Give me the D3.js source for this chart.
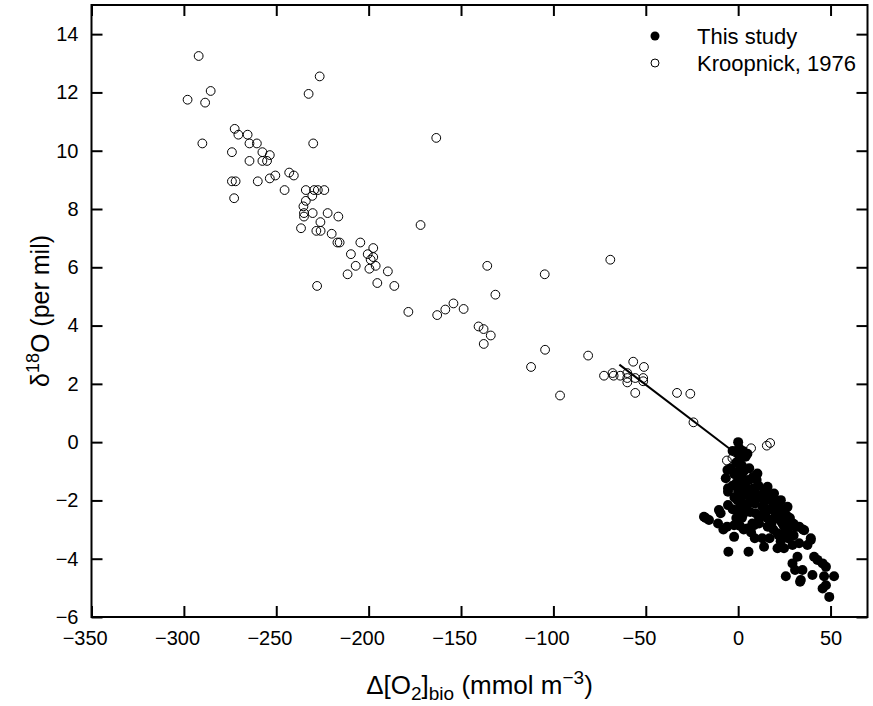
<!DOCTYPE html>
<html>
<head>
<meta charset="utf-8">
<script src="https://cdn.jsdelivr.net/npm/d3@7"></script>
<style>
  body { margin: 0; background: #fff; }
  svg text { font-family: "Liberation Sans", Arial, Helvetica, sans-serif; fill: #000; }
</style>
</head>
<body>
<div id="chart"></div>
<script>
// Kroopnick, 1976 (open circles): [dO2bio, d18O]
const kroopnick = [
  [-292, 13.25], [-298, 11.75], [-288.5, 11.65], [-285.5, 12.05], [-290, 10.25],
  [-226.5, 12.55], [-232.5, 11.95], [-230, 10.25], [-272.5, 10.75], [-270.5, 10.55],
  [-265.5, 10.55], [-264.5, 10.25], [-260.5, 10.25], [-274, 9.95], [-257.5, 9.95],
  [-253.5, 9.85], [-264.5, 9.65], [-257.5, 9.65], [-255, 9.65], [-250.5, 9.15],
  [-253.5, 9.05], [-243, 9.25], [-240.5, 9.15], [-274, 8.95], [-272, 8.95],
  [-260, 8.95], [-245.5, 8.65], [-234, 8.65], [-229.5, 8.65], [-227.5, 8.65],
  [-224, 8.65], [-230.5, 8.45], [-234, 8.28], [-272.8, 8.37], [-235.3, 8.09],
  [-235, 7.86], [-235, 7.74], [-230.3, 7.86], [-222.2, 7.86], [-216.4, 7.74],
  [-226.1, 7.55], [-236.6, 7.34], [-228.3, 7.25], [-226, 7.25], [-220, 7.15],
  [-216.9, 6.85], [-215.7, 6.85], [-204.5, 6.85], [-209.6, 6.45], [-197.5, 6.66],
  [-200.5, 6.45], [-198.9, 6.26], [-197.5, 6.35], [-199.6, 5.95], [-196.2, 6.05],
  [-207, 6.05], [-211.4, 5.76], [-189.6, 5.86], [-195.3, 5.46], [-186.1, 5.36],
  [-227.9, 5.36], [-171.9, 7.45], [-178.5, 4.47], [-162.9, 4.36], [-158.5, 4.55],
  [-154.1, 4.76], [-148.6, 4.57], [-163.4, 10.44], [-135.8, 6.05], [-131.4, 5.06],
  [-104.7, 5.76], [-140.5, 3.97], [-137.8, 3.88], [-133.9, 3.66], [-137.7, 3.37],
  [-104.5, 3.17], [-112.1, 2.58], [-96.4, 1.6], [-81.2, 2.97], [-69.2, 6.26],
  [-56.8, 2.76], [-51, 2.58], [-72.6, 2.28], [-68, 2.37], [-67.4, 2.28],
  [-63.8, 2.28], [-60, 2.37], [-60, 2.2], [-60, 2.05], [-55.7, 2.2],
  [-51.4, 2.2], [-51.4, 2.09], [-55.7, 1.69], [-33.1, 1.69], [-25.9, 1.66],
  [-24.2, 0.68], [7, -0.21], [15.5, -0.12], [17.3, -0.03], [-6.1, -0.63],
  [-3.1, -0.55], [2, -0.45], [-1.5, -0.35]
];

// This study (filled circles): [dO2bio, d18O]
const thisStudy = [
  [0, 0], [0.5, -0.2], [0, -0.4], [1, -0.6], [-1, -0.7], [2, -0.8], [0, -1.0], [3, -1.0],
  [-2, -1.1], [1.5, -1.2], [4, -1.3], [-1, -1.4], [6, -1.3], [2.5, -1.5], [5, -1.6],
  [8, -1.6], [0, -1.7], [-3, -1.5], [3.5, -1.8], [7, -1.9], [10, -1.8], [12, -1.9],
  [1.5, -2.0], [5.5, -2.1], [9, -2.1], [13, -2.2], [15, -2.0], [17, -2.3], [-3, -2.3],
  [0, -2.4], [2.5, -2.5], [6.5, -2.4], [14, -2.4], [19, -2.1], [3, -3.0], [7, -3.1],
  [16, -2.9], [13, -3.3], [17, -3.3], [9, -3.3], [2, -2.6], [-1, -2.6], [4, -0.5],
  [2.5, -0.3], [6, -0.9], [8, -1.2], [10, -1.3], [11, -1.5], [14, -1.7], [16, -1.8],
  [18, -1.9], [20, -2.3], [22, -2.5], [24, -2.8], [28, -2.7], [30, -3.2], [27, -3.3],
  [19, -3.0], [23, -3.4], [-4, -0.9], [5, -0.4], [10.4, -1.08], [15.9, -1.53],
  [19.4, -1.76], [18, -1.8], [20, -2.0], [22, -2.1], [24, -2.3], [26, -2.5], [28, -2.6],
  [30, -2.8], [33, -2.9], [35, -3.0], [20, -2.4], [23, -2.7], [25, -2.9], [27, -3.0],
  [18, -2.8], [22, -3.2], [-3, -0.3], [-2, -1.9], [1, -2.2], [-6, -2.9],
  [-5.8, -0.96], [-6.7, -1.24], [-5.5, -1.58], [-5.5, -1.7], [-5.5, -2.16], [-10.4, -2.33],
  [-9.5, -2.44], [-18.5, -2.56], [-15.8, -2.67], [-10.9, -2.79], [-8.0, -3.0], [-2.2, -2.85],
  [1.0, -2.88], [-2.2, -3.25], [-5.3, -3.76], [5.6, -3.76], [14.0, -3.59], [5.0, -2.96],
  [8.6, -2.85], [11.3, -2.79], [21.3, -3.64], [24.8, -3.64], [29.4, -3.53], [33.0, -3.47],
  [37.5, -3.53], [39.3, -3.36], [32.1, -3.93], [29.4, -4.16], [41.1, -3.93], [42.9, -4.04],
  [45.7, -4.16], [47.5, -4.28], [25.8, -4.6], [30.8, -4.39], [34.8, -4.39], [33.9, -4.73],
  [33.5, -4.79], [40.2, -4.56], [46.5, -4.6], [51.9, -4.6], [45.7, -5.02], [47.5, -4.91],
  [49.3, -5.31], [35.7, -3.02], [39.3, -3.3], [31.2, -2.91], [26.7, -2.56], [23.1, -1.99],
  [26.7, -2.22], [20.4, -2.56], [18.6, -2.67], [21.3, -3.13], [24.8, -3.13], [9.5, -2.44],
  [11.3, -2.61], [15.8, -2.61], [4.1, -2.27], [-0.4, -1.99], [7.7, -2.79], [-17.6, -2.6]
];

// regression line end points
const fitLine = [[-64.3, 2.66], [-1.6, -0.37]];

const xTicks = [-350, -300, -250, -200, -150, -100, -50, 0, 50];
const yTicks = [-6, -4, -2, 0, 2, 4, 6, 8, 10, 12, 14];
const legendLabels = ["This study", "Kroopnick, 1976"];

const W = 873, H = 706;
const plot = { left: 91.5, right: 867.5, top: 5, bottom: 617 };

const svg = d3.select("#chart").append("svg")
  .attr("width", W)
  .attr("height", H);

const x = d3.scaleLinear().domain([-350, 70]).range([plot.left, plot.right]);
const y = d3.scaleLinear().domain([-6, 15]).range([plot.bottom, plot.top]);

const fmt = d3.format("d");

function styleAxis(g) {
  g.select(".domain").remove();
  g.selectAll(".tick line").attr("stroke", "#000").attr("stroke-width", 2);
  g.selectAll(".tick text").style("font-size", "20px");
}

svg.append("g")
  .attr("transform", `translate(0,${plot.bottom})`)
  .call(d3.axisBottom(x).tickValues(xTicks).tickFormat(fmt).tickSizeInner(-11).tickSizeOuter(0).tickPadding(14))
  .call(styleAxis)
  // centre the digits on the tick, the minus sign hangs to the left
  .selectAll(".tick text").attr("dx", d => d < 0 ? "-0.34em" : 0);

svg.append("g")
  .attr("transform", `translate(0,${plot.top})`)
  .call(d3.axisTop(x).tickValues(xTicks).tickFormat("").tickSizeInner(-11).tickSizeOuter(0))
  .call(styleAxis);

svg.append("g")
  .attr("transform", `translate(${plot.left},0)`)
  .call(d3.axisLeft(y).tickValues(yTicks).tickFormat(fmt).tickSizeInner(-11).tickSizeOuter(0).tickPadding(13))
  .call(styleAxis);

svg.append("g")
  .attr("transform", `translate(${plot.right},0)`)
  .call(d3.axisRight(y).tickValues(yTicks).tickFormat("").tickSizeInner(-11).tickSizeOuter(0))
  .call(styleAxis);

// frame
svg.append("rect")
  .attr("x", plot.left)
  .attr("y", plot.top)
  .attr("width", plot.right - plot.left)
  .attr("height", plot.bottom - plot.top)
  .attr("fill", "none")
  .attr("stroke", "#000")
  .attr("stroke-width", 2);

// points
svg.append("g").selectAll("circle")
  .data(kroopnick)
  .join("circle")
  .attr("cx", d => x(d[0]))
  .attr("cy", d => y(d[1]))
  .attr("r", 4.4)
  .attr("fill", "none")
  .attr("stroke", "#000")
  .attr("stroke-width", 1);

svg.append("g").selectAll("circle")
  .data(thisStudy)
  .join("circle")
  .attr("cx", d => x(d[0]))
  .attr("cy", d => y(d[1]))
  .attr("r", 5)
  .attr("fill", "#000");

svg.append("path")
  .datum(fitLine)
  .attr("fill", "none")
  .attr("stroke", "#000")
  .attr("stroke-width", 2)
  .attr("d", d3.line().x(d => x(d[0])).y(d => y(d[1])));

// legend
const legend = svg.append("g").attr("transform", "translate(655,36)");
legend.append("circle").attr("cx", 0).attr("cy", 0).attr("r", 4.5).attr("fill", "#000");
legend.append("circle").attr("cx", 0).attr("cy", 27).attr("r", 4)
  .attr("fill", "none").attr("stroke", "#000").attr("stroke-width", 1);
legend.selectAll("text")
  .data(legendLabels)
  .join("text")
  .attr("x", 42)
  .attr("y", (d, i) => i * 27)
  .attr("dy", "0.36em")
  .style("font-size", "22px")
  .text(d => d);

// axis titles
const xt = svg.append("text")
  .attr("x", (plot.left + plot.right) / 2)
  .attr("y", 694)
  .attr("text-anchor", "middle")
  .style("font-size", "26px");
xt.append("tspan").text("Δ[O");
xt.append("tspan").attr("baseline-shift", "-30%").style("font-size", "19px").text("2");
xt.append("tspan").text("]");
xt.append("tspan").attr("baseline-shift", "-30%").style("font-size", "19px").text("bio");
xt.append("tspan").text(" (mmol m");
xt.append("tspan").attr("baseline-shift", "super").style("font-size", "19px").text("−3");
xt.append("tspan").text(")");

const yt = svg.append("text")
  .attr("transform", `translate(49,${(plot.top + plot.bottom) / 2}) rotate(-90)`)
  .attr("text-anchor", "middle")
  .style("font-size", "25px");
yt.append("tspan").text("δ");
yt.append("tspan").attr("baseline-shift", "super").style("font-size", "18px").text("18");
yt.append("tspan").text("O (per mil)");
</script>
</body>
</html>
